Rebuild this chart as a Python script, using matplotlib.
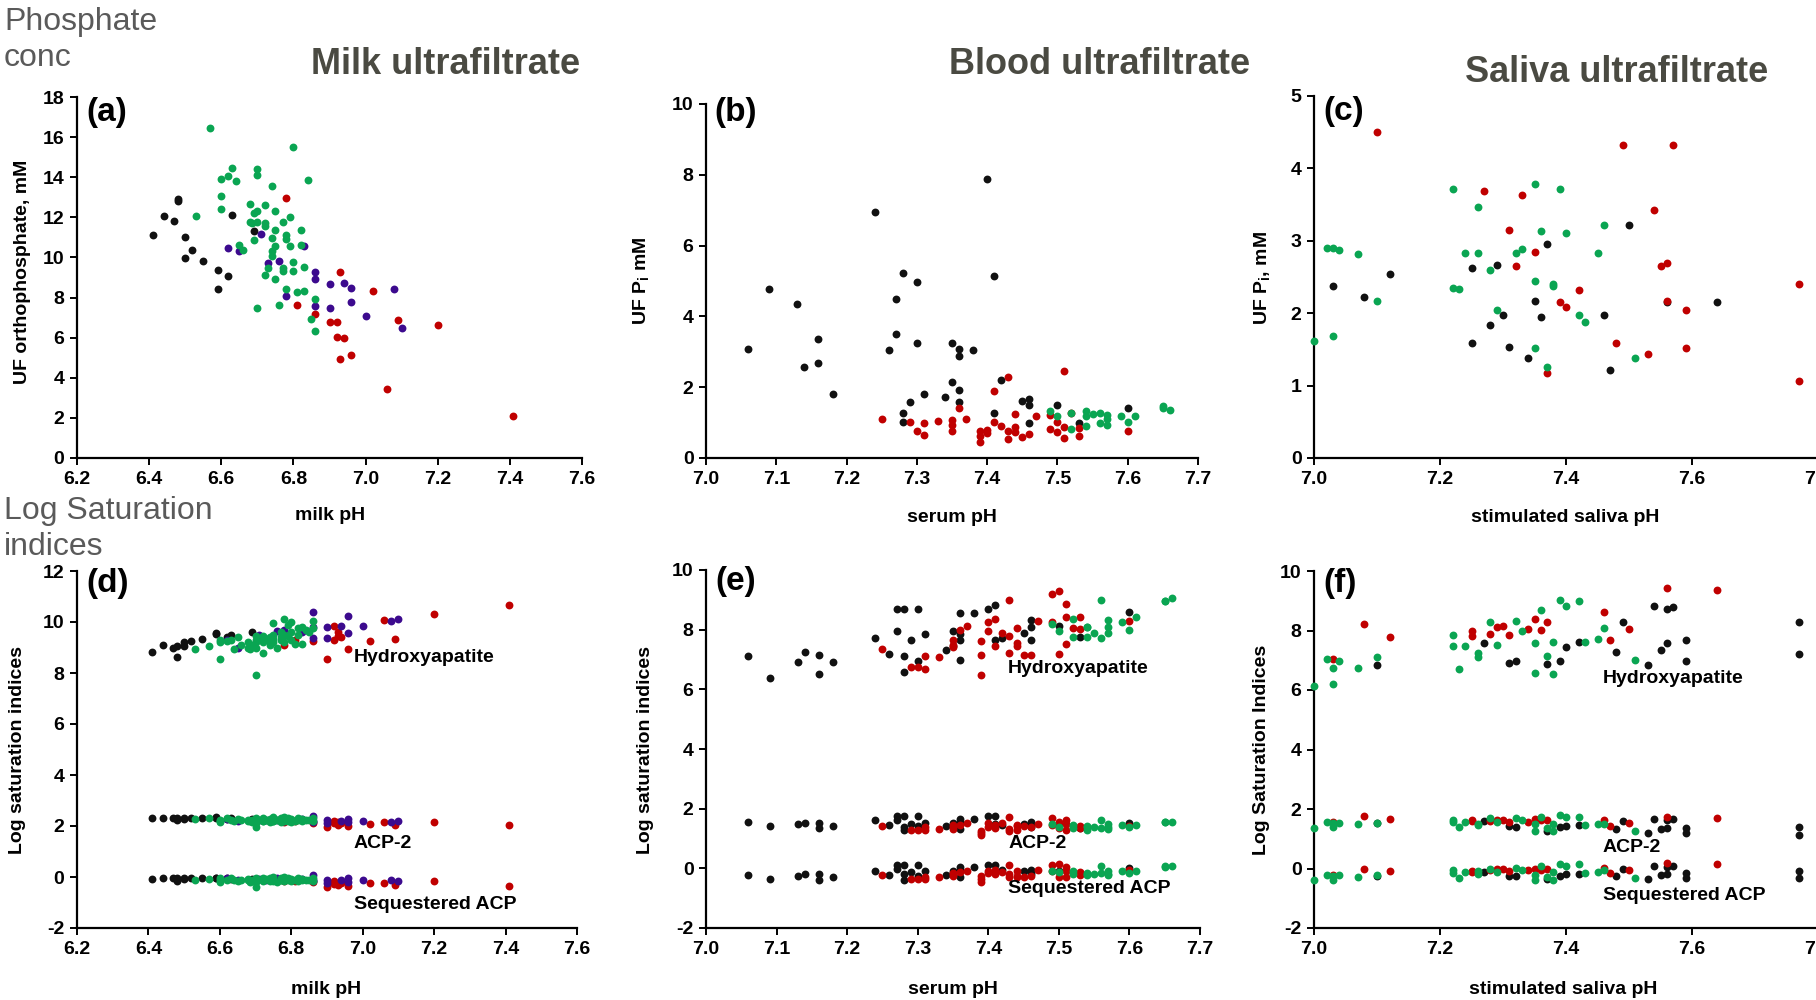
import matplotlib
matplotlib.use("Agg")
import matplotlib.pyplot as plt

W, H = 1816, 1000

# ---- panel (a): milk ultrafiltrate, UF orthophosphate (mM) vs milk pH
ph_a_black = [6.41, 6.44, 6.47, 6.48, 6.48, 6.50, 6.50, 6.52, 6.55, 6.59, 6.59, 6.62, 6.63, 6.69]
pi_a_black = [11.1, 12.05, 11.8, 12.9, 12.8, 11.0, 9.95, 10.35, 9.8, 9.35, 8.45, 9.05, 12.1, 11.3]
ph_a_green = [6.57, 6.53, 6.60, 6.60, 6.60, 6.62, 6.63, 6.64, 6.65, 6.66, 6.68, 6.68, 6.685, 6.69,
              6.69, 6.70, 6.70, 6.70, 6.70, 6.70, 6.72, 6.72, 6.72, 6.72, 6.73, 6.74, 6.74, 6.74,
              6.74, 6.75, 6.75, 6.75, 6.75, 6.76, 6.77, 6.77, 6.77, 6.78, 6.78, 6.78, 6.79, 6.79,
              6.80, 6.80, 6.80, 6.81, 6.82, 6.82, 6.83, 6.83, 6.84, 6.85, 6.86, 6.86]
pi_a_green = [16.45, 12.05, 13.9, 13.05, 12.4, 14.05, 14.45, 13.8, 10.6, 10.35, 12.65, 11.75, 11.7, 12.2,
              10.85, 14.4, 14.1, 12.3, 11.75, 7.5, 12.6, 11.7, 11.55, 9.1, 9.45, 13.55, 10.95, 10.3,
              10.05, 12.3, 11.35, 10.55, 8.95, 7.65, 11.75, 9.45, 9.3, 11.1, 10.9, 8.45, 12.0, 10.55,
              15.5, 9.75, 9.3, 8.3, 11.35, 10.6, 9.5, 8.35, 13.85, 6.95, 7.95, 6.35]
ph_a_purple = [6.62, 6.65, 6.71, 6.73, 6.76, 6.78, 6.83, 6.86, 6.86, 6.86, 6.90, 6.90, 6.94, 6.96,
               6.96, 7.00, 7.08, 7.10]
pi_a_purple = [10.45, 10.3, 11.15, 9.7, 9.8, 8.1, 10.55, 9.25, 8.95, 7.6, 8.7, 7.5, 8.75, 8.5,
               7.8, 7.1, 8.45, 6.5]
ph_a_red = [6.78, 6.81, 6.86, 6.90, 6.92, 6.92, 6.93, 6.93, 6.94, 6.96, 7.02, 7.06, 7.09, 7.20, 7.41]
pi_a_red = [12.95, 7.65, 7.2, 6.8, 6.8, 6.05, 9.25, 4.95, 6.0, 5.15, 8.35, 3.45, 6.9, 6.65, 2.1]

# ---- panel (d): milk, log saturation indices (same samples as (a))
hap_d_black = [8.84, 9.10, 9.00, 8.62, 9.06, 9.23, 9.06, 9.26, 9.33, 9.58, 9.52, 9.42, 9.49, 9.60]
acp_d_black = [2.30, 2.33, 2.30, 2.22, 2.30, 2.30, 2.28, 2.30, 2.31, 2.33, 2.35, 2.28, 2.30, 2.28]
seq_d_black = [-0.07, -0.03, -0.05, -0.15, -0.05, -0.05, -0.07, -0.05, -0.03, -0.02, -0.05, -0.05, -0.07, -0.08]
hap_d_green = [9.06, 8.94, 9.30, 8.55, 9.20, 9.27, 9.30, 8.93, 9.40, 9.10, 9.20, 9.00, 8.95, 9.10,
               9.05, 9.45, 9.00, 9.30, 9.20, 7.92, 8.80, 9.30, 9.20, 9.45, 9.35, 9.20, 9.40, 9.30,
               9.10, 9.97, 9.50, 9.20, 9.35, 9.00, 9.40, 9.60, 9.30, 10.10, 9.50, 9.20, 9.90, 9.45,
               10.00, 9.60, 9.30, 9.14, 9.75, 9.50, 9.14, 9.80, 9.70, 9.60, 10.05, 9.75]
acp_d_green = [2.30, 2.28, 2.25, 2.15, 2.20, 2.30, 2.25, 2.20, 2.28, 2.22, 2.20, 2.25, 2.18, 2.22,
               2.15, 2.30, 2.20, 2.25, 2.10, 1.96, 2.20, 2.25, 2.18, 2.30, 2.22, 2.20, 2.28, 2.15,
               2.25, 2.35, 2.20, 2.28, 2.18, 2.25, 2.30, 2.20, 2.15, 2.35, 2.25, 2.20, 2.30, 2.18,
               2.28, 2.22, 2.15, 2.20, 2.30, 2.25, 2.18, 2.28, 2.22, 2.25, 2.30, 2.20]
seq_d_green = [-0.08, -0.10, -0.05, -0.20, -0.12, -0.10, -0.05, -0.12, -0.15, -0.10, -0.08, -0.12, -0.18, -0.10,
               -0.15, -0.05, -0.12, -0.08, -0.20, -0.40, -0.15, -0.10, -0.05, -0.12, -0.08, -0.15, -0.10, -0.05,
               -0.12, 0.00, -0.10, -0.15, -0.08, -0.20, -0.05, -0.12, -0.10, 0.00, -0.08, -0.15, -0.05, -0.12,
               -0.08, -0.15, -0.10, -0.12, -0.05, -0.15, -0.08, -0.10, -0.12, -0.10, -0.05, -0.15]
hap_d_purple = [9.30, 9.00, 9.50, 9.35, 9.65, 9.70, 9.60, 10.38, 9.36, 9.80, 9.82, 9.36, 9.85, 10.25,
                9.58, 9.86, 10.02, 10.10]
acp_d_purple = [2.28, 2.20, 2.25, 2.22, 2.25, 2.20, 2.28, 2.38, 2.15, 2.20, 2.25, 2.10, 2.20, 2.28,
                2.15, 2.18, 2.15, 2.18]
seq_d_purple = [-0.05, -0.12, -0.08, -0.10, -0.05, -0.10, -0.08, 0.06, -0.15, -0.10, -0.13, -0.22, -0.12, -0.05,
                -0.18, -0.13, -0.10, -0.17]
hap_d_red = [9.10, 9.30, 9.25, 8.55, 9.85, 9.30, 9.45, 9.60, 9.42, 8.93, 9.27, 10.08, 9.33, 10.31, 10.68]
acp_d_red = [2.15, 2.20, 2.10, 1.96, 2.12, 2.20, 2.15, 2.05, 2.10, 2.00, 2.07, 2.15, 2.02, 2.17, 2.05]
seq_d_red = [-0.15, -0.15, -0.20, -0.39, -0.17, -0.28, -0.25, -0.30, -0.22, -0.35, -0.23, -0.23, -0.33, -0.17, -0.37]

# ---- panel (b): blood ultrafiltrate, UF Pi vs serum pH
ph_b_black = [7.06, 7.09, 7.13, 7.14, 7.16, 7.16, 7.18, 7.24, 7.26, 7.27, 7.27, 7.28, 7.28, 7.28,
              7.29, 7.30, 7.30, 7.31, 7.34, 7.35, 7.35, 7.36, 7.36, 7.36, 7.36, 7.38, 7.40, 7.41,
              7.41, 7.42, 7.45, 7.46, 7.46, 7.46, 7.50, 7.53, 7.60]
pi_b_black = [3.09, 4.78, 4.36, 2.57, 3.37, 2.67, 1.81, 6.96, 3.04, 4.5, 3.49, 5.23, 1.27, 1.03,
              1.57, 4.96, 3.24, 1.82, 1.71, 3.24, 2.16, 3.07, 2.89, 1.93, 1.59, 3.05, 7.89, 5.15,
              1.27, 2.19, 1.6, 1.67, 1.5, 0.99, 1.51, 0.99, 1.41]
ph_b_red = [7.25, 7.29, 7.30, 7.31, 7.31, 7.33, 7.35, 7.35, 7.35, 7.36, 7.37, 7.39, 7.39, 7.39,
            7.40, 7.40, 7.41, 7.41, 7.42, 7.43, 7.43, 7.43, 7.44, 7.44, 7.44, 7.45, 7.46, 7.47,
            7.49, 7.49, 7.50, 7.50, 7.51, 7.51, 7.51, 7.52, 7.53, 7.53, 7.60]
pi_b_red = [1.11, 1.01, 0.75, 0.99, 0.66, 1.04, 1.06, 0.94, 0.75, 1.41, 1.09, 0.75, 0.61, 0.44,
            0.8, 0.7, 1.88, 1.01, 0.91, 2.29, 0.75, 0.55, 1.25, 0.87, 0.73, 0.59, 0.68, 1.2,
            1.22, 0.82, 1.01, 0.73, 2.46, 0.87, 0.56, 1.28, 0.85, 0.63, 0.77]
ph_b_green = [7.49, 7.50, 7.52, 7.52, 7.54, 7.54, 7.54, 7.55, 7.56, 7.56, 7.57, 7.57, 7.57, 7.59,
              7.60, 7.61, 7.65, 7.65, 7.66]
pi_b_green = [1.33, 1.2, 1.27, 0.83, 1.34, 1.19, 0.89, 1.25, 1.27, 0.99, 1.21, 1.1, 0.94, 1.18,
              1.03, 1.19, 1.48, 1.41, 1.36]

# ---- panel (e): blood, log saturation indices (same samples as (b))
hap_e_black = [7.12, 6.39, 6.90, 7.24, 7.15, 6.50, 6.90, 7.73, 7.20, 8.69, 7.97, 8.69, 7.12, 6.57,
               7.66, 8.69, 6.96, 7.85, 7.32, 7.94, 7.45, 8.55, 7.66, 6.99, 7.85, 8.57, 8.69, 8.83,
               7.66, 7.73, 7.90, 8.33, 8.08, 7.66, 8.12, 7.77, 8.60]
acp_e_black = [1.54, 1.41, 1.48, 1.52, 1.52, 1.35, 1.41, 1.63, 1.44, 1.74, 1.63, 1.76, 1.38, 1.27,
               1.50, 1.76, 1.41, 1.52, 1.41, 1.52, 1.45, 1.65, 1.50, 1.32, 1.55, 1.66, 1.74, 1.74,
               1.50, 1.45, 1.48, 1.54, 1.50, 1.40, 1.45, 1.35, 1.52]
seq_e_black = [-0.21, -0.36, -0.27, -0.19, -0.19, -0.38, -0.29, -0.08, -0.21, 0.12, -0.02, 0.10, -0.20, -0.38,
               -0.13, 0.10, -0.25, -0.10, -0.21, -0.08, -0.15, 0.03, -0.10, -0.29, -0.05, 0.03, 0.12, 0.12,
               -0.10, -0.05, -0.10, -0.04, -0.12, -0.20, -0.08, -0.15, 0.01]
hap_e_red = [7.34, 6.74, 6.74, 7.12, 6.67, 7.10, 7.66, 7.41, 7.50, 7.99, 8.12, 7.63, 7.15, 6.47,
             8.27, 7.96, 8.37, 7.46, 7.88, 9.00, 7.79, 7.21, 8.05, 7.54, 7.45, 7.15, 7.15, 8.30,
             9.18, 8.27, 9.31, 7.19, 8.86, 8.43, 7.52, 8.05, 8.43, 8.01, 8.29]
acp_e_red = [1.43, 1.29, 1.29, 1.27, 1.38, 1.33, 1.38, 1.32, 1.45, 1.46, 1.52, 1.24, 1.13, 1.20,
             1.52, 1.40, 1.46, 1.35, 1.52, 1.71, 1.32, 1.25, 1.41, 1.30, 1.45, 1.41, 1.38, 1.50,
             1.68, 1.45, 1.55, 1.35, 1.63, 1.50, 1.29, 1.43, 1.43, 1.35, 1.43]
seq_e_red = [-0.21, -0.36, -0.36, -0.36, -0.30, -0.29, -0.20, -0.25, -0.15, -0.12, -0.08, -0.27, -0.47, -0.35,
             -0.08, -0.15, -0.04, -0.20, -0.12, 0.10, -0.20, -0.28, -0.10, -0.25, -0.30, -0.30, -0.25, -0.05,
             0.12, -0.10, 0.16, -0.30, 0.05, -0.10, -0.29, -0.16, -0.12, -0.22, -0.05]
hap_e_green = [8.19, 7.97, 8.36, 7.75, 8.08, 7.77, 8.10, 7.90, 9.00, 7.71, 8.32, 8.10, 7.90, 8.27,
               7.99, 8.41, 8.97, 8.95, 9.07]
acp_e_green = [1.48, 1.40, 1.45, 1.35, 1.41, 1.38, 1.30, 1.40, 1.63, 1.35, 1.48, 1.38, 1.32, 1.45,
               1.38, 1.44, 1.55, 1.55, 1.55]
seq_e_green = [-0.08, -0.12, -0.10, -0.20, -0.15, -0.20, -0.22, -0.18, 0.08, -0.15, -0.10, -0.18, -0.22, -0.10,
               -0.15, -0.10, 0.06, 0.07, 0.07]

# ---- panel (c): saliva ultrafiltrate, UF Pi vs stimulated saliva pH
ph_c_black = [7.03, 7.08, 7.12, 7.25, 7.25, 7.28, 7.29, 7.30, 7.31, 7.34, 7.35, 7.36, 7.37, 7.46,
              7.47, 7.50, 7.56, 7.64]
pi_c_black = [2.37, 2.23, 2.54, 2.63, 1.59, 1.84, 2.67, 1.98, 1.54, 1.38, 2.17, 1.95, 2.96, 1.97,
              1.22, 3.22, 2.15, 2.15]
ph_c_red = [7.10, 7.27, 7.31, 7.32, 7.33, 7.35, 7.37, 7.39, 7.40, 7.42, 7.48, 7.49, 7.53, 7.54,
            7.55, 7.56, 7.56, 7.57, 7.59, 7.59, 7.77, 7.77]
pi_c_red = [4.5, 3.69, 3.15, 2.65, 3.63, 2.85, 1.17, 2.16, 2.09, 2.32, 1.59, 4.33, 1.44, 3.43,
            2.65, 2.70, 2.17, 4.33, 2.04, 1.52, 2.4, 1.06]
ph_c_green = [7.00, 7.02, 7.03, 7.04, 7.03, 7.07, 7.10, 7.22, 7.22, 7.23, 7.24, 7.26, 7.26, 7.28,
              7.29, 7.32, 7.33, 7.35, 7.35, 7.35, 7.36, 7.37, 7.38, 7.38, 7.39, 7.40, 7.42, 7.43,
              7.45, 7.46, 7.51]
pi_c_green = [1.62, 2.9, 2.9, 2.87, 1.68, 2.82, 2.17, 3.71, 2.35, 2.33, 2.83, 3.47, 2.83, 2.6,
              2.05, 2.83, 2.89, 3.79, 2.44, 1.52, 3.14, 1.26, 2.41, 2.38, 3.72, 3.11, 1.98, 1.88,
              2.83, 3.22, 1.38]

# ---- panel (f): saliva, log saturation indices
ph_f_black = [7.10, 7.27, 7.31, 7.32, 7.37, 7.39, 7.40, 7.42, 7.48, 7.49, 7.53, 7.54, 7.55, 7.56,
              7.56, 7.57, 7.59, 7.59, 7.77, 7.77]
hap_f_black = [6.84, 7.59, 6.92, 6.99, 6.86, 6.99, 7.44, 7.63, 7.29, 8.28, 6.83, 8.84, 7.33, 7.58,
               8.71, 8.79, 7.67, 6.99, 8.28, 7.22]
acp_f_black = [1.52, 1.59, 1.42, 1.40, 1.26, 1.40, 1.43, 1.45, 1.32, 1.60, 1.21, 1.65, 1.33, 1.37,
               1.64, 1.65, 1.37, 1.21, 1.40, 1.12]
seq_f_black = [-0.25, -0.12, -0.26, -0.26, -0.34, -0.26, -0.17, -0.17, -0.25, -0.03, -0.34, 0.08, -0.21, -0.17,
               0.06, 0.08, -0.15, -0.31, -0.08, -0.31]
ph_f_red = [7.03, 7.08, 7.12, 7.25, 7.25, 7.28, 7.29, 7.30, 7.31, 7.34, 7.35, 7.36, 7.37, 7.46,
            7.47, 7.50, 7.56, 7.64]
hap_f_red = [7.03, 8.22, 7.77, 7.99, 7.80, 7.88, 8.13, 8.16, 7.85, 8.05, 8.38, 8.03, 8.30, 8.61,
             7.69, 8.05, 9.43, 9.35]
acp_f_red = [1.56, 1.76, 1.67, 1.60, 1.62, 1.59, 1.64, 1.64, 1.56, 1.56, 1.67, 1.62, 1.64, 1.62,
             1.43, 1.54, 1.73, 1.70]
seq_f_red = [-0.21, 0.00, -0.08, -0.08, -0.12, -0.06, -0.03, -0.03, -0.08, -0.06, 0.00, -0.06, -0.03, 0.03,
             -0.14, -0.06, 0.19, 0.16]
ph_f_green = [7.00, 7.02, 7.03, 7.03, 7.04, 7.07, 7.10, 7.22, 7.22, 7.23, 7.24, 7.26, 7.26, 7.28,
              7.29, 7.32, 7.33, 7.35, 7.35, 7.36, 7.37, 7.38, 7.38, 7.39, 7.40, 7.42, 7.43, 7.45,
              7.46, 7.51]
hap_f_green = [6.12, 7.03, 6.73, 6.21, 6.96, 6.75, 7.10, 7.85, 7.49, 6.71, 7.47, 7.25, 7.10, 8.28,
               7.52, 8.33, 7.98, 7.58, 6.58, 8.68, 7.13, 7.61, 6.54, 9.01, 8.84, 8.98, 7.61, 7.73,
               8.10, 7.02]
acp_f_green = [1.37, 1.56, 1.39, 1.54, 1.54, 1.48, 1.53, 1.62, 1.55, 1.39, 1.55, 1.50, 1.45, 1.71,
               1.55, 1.70, 1.64, 1.50, 1.26, 1.73, 1.37, 1.50, 1.26, 1.79, 1.73, 1.73, 1.45, 1.48,
               1.50, 1.25]
seq_f_green = [-0.40, -0.21, -0.40, -0.25, -0.23, -0.28, -0.21, -0.06, -0.15, -0.32, -0.12, -0.20, -0.10, 0.00,
               -0.12, 0.02, -0.06, -0.22, -0.40, 0.08, -0.28, -0.12, -0.40, 0.16, 0.10, 0.14, -0.15, -0.12,
               -0.06, -0.32]

BLACK = "#111111"
RED = "#c00000"
GREEN = "#0aa552"
PURPLE = "#3c0a8e"
NARROW = ["Liberation Sans Narrow", "Liberation Sans", "DejaVu Sans"]

plt.rcParams["font.family"] = ["Liberation Sans", "DejaVu Sans"]
plt.rcParams["font.weight"] = "bold"
plt.rcParams["axes.labelweight"] = "bold"
plt.rcParams["axes.unicode_minus"] = False
plt.rcParams["mathtext.default"] = "regular"


def box(l, t, r, b):
    return [l / W, 1 - b / H, (r - l) / W, (b - t) / H]


def fpos(x, y):
    return x / W, 1 - y / H


fig = plt.figure(figsize=(W / 100, H / 100), dpi=100)


def style(ax, xlim, xticks, ylim, yticks):
    ax.set_xlim(xlim)
    ax.set_ylim(ylim)
    ax.set_xticks(xticks)
    ax.set_xticklabels(["%.1f" % v for v in xticks])
    ax.set_yticks(yticks)
    ax.set_yticklabels(["%d" % v for v in yticks])
    for s in ["top", "right"]:
        ax.spines[s].set_visible(False)
    for s in ["left", "bottom"]:
        ax.spines[s].set_linewidth(1.6)
    ax.tick_params(direction="out", length=5, width=1.4, labelsize=14, pad=4)
    ax.patch.set_alpha(0)


def dots(ax, x, y, c):
    ax.scatter(x, y, s=32, color=c, linewidths=0, zorder=3, clip_on=False)


def labels(ax, xl, xpos, yl, ypos):
    ax.set_xlabel(xl, fontsize=14, va="center", ha="center")
    ax.xaxis.set_label_coords(*fpos(*xpos), transform=fig.transFigure)
    ax.set_ylabel(yl, fontsize=14, va="center", ha="center")
    ax.yaxis.set_label_coords(*fpos(*ypos), transform=fig.transFigure)


def tag(ax, s, y=0.96):
    ax.text(0.018, y, s, transform=ax.transAxes, ha="left", va="center",
            fontsize=24, fontweight="bold", family=NARROW)


milk_x = [6.2, 6.4, 6.6, 6.8, 7.0, 7.2, 7.4, 7.6]
blood_x = [7.0, 7.1, 7.2, 7.3, 7.4, 7.5, 7.6, 7.7]
saliva_x = [7.0, 7.2, 7.4, 7.6, 7.8]

# (a)
ax = fig.add_axes(box(77, 97, 582, 458))
style(ax, (6.2, 7.6), milk_x, (0, 18), range(0, 19, 2))
dots(ax, ph_a_black, pi_a_black, BLACK)
dots(ax, ph_a_red, pi_a_red, RED)
dots(ax, ph_a_purple, pi_a_purple, PURPLE)
dots(ax, ph_a_green, pi_a_green, GREEN)
labels(ax, "milk pH", (330, 516), "UF orthophosphate, mM", (23, 272))
tag(ax, "(a)", 0.958)

# (b)
ax = fig.add_axes(box(706, 104, 1198, 458))
style(ax, (7.0, 7.7), blood_x, (0, 10), range(0, 11, 2))
dots(ax, ph_b_black, pi_b_black, BLACK)
dots(ax, ph_b_red, pi_b_red, RED)
dots(ax, ph_b_green, pi_b_green, GREEN)
labels(ax, "serum pH", (952, 517), "UF P$_\\mathregular{i}$ mM", (641, 281))
tag(ax, "(b)", 0.975)

# (c)
ax = fig.add_axes(box(1314, 96, 1818, 458))
style(ax, (7.0, 7.8), saliva_x, (0, 5), range(0, 6))
dots(ax, ph_c_black, pi_c_black, BLACK)
dots(ax, ph_c_red, pi_c_red, RED)
dots(ax, ph_c_green, pi_c_green, GREEN)
labels(ax, "stimulated saliva pH", (1565, 517), "UF P$_\\mathregular{i}$, mM", (1262, 278))
tag(ax, "(c)", 0.956)

# (d)
ax = fig.add_axes(box(77, 571, 577, 928))
style(ax, (6.2, 7.6), milk_x, (-2, 12), range(-2, 13, 2))
for yb, yg, yp, yr in [(hap_d_black, hap_d_green, hap_d_purple, hap_d_red),
                       (acp_d_black, acp_d_green, acp_d_purple, acp_d_red),
                       (seq_d_black, seq_d_green, seq_d_purple, seq_d_red)]:
    dots(ax, ph_a_black, yb, BLACK)
    dots(ax, ph_a_red, yr, RED)
    dots(ax, ph_a_purple, yp, PURPLE)
    dots(ax, ph_a_green, yg, GREEN)
ax.text(6.975, 8.6, "Hydroxyapatite", fontsize=14, va="center")
ax.text(6.975, 1.3, "ACP-2", fontsize=14, va="center")
ax.text(6.975, -1.06, "Sequestered ACP", fontsize=14, va="center")
labels(ax, "milk pH", (326, 990), "Log saturation indices", (18, 750))
tag(ax, "(d)", 0.966)

# (e)
ax = fig.add_axes(box(706, 570, 1200, 928))
style(ax, (7.0, 7.7), blood_x, (-2, 10), range(-2, 11, 2))
for yb, yr, yg in [(hap_e_black, hap_e_red, hap_e_green),
                   (acp_e_black, acp_e_red, acp_e_green),
                   (seq_e_black, seq_e_red, seq_e_green)]:
    dots(ax, ph_b_black, yb, BLACK)
    dots(ax, ph_b_red, yr, RED)
    dots(ax, ph_b_green, yg, GREEN)
ax.text(7.428, 6.7, "Hydroxyapatite", fontsize=14, va="center")
ax.text(7.428, 0.83, "ACP-2", fontsize=14, va="center")
ax.text(7.428, -0.69, "Sequestered ACP", fontsize=14, va="center")
labels(ax, "serum pH", (953, 990), "Log saturation indices", (645, 750))
tag(ax, "(e)", 0.969)

# (f)
ax = fig.add_axes(box(1314, 571, 1818, 928))
style(ax, (7.0, 7.8), saliva_x, (-2, 10), range(-2, 11, 2))
for yb, yr, yg in [(hap_f_black, hap_f_red, hap_f_green),
                   (acp_f_black, acp_f_red, acp_f_green),
                   (seq_f_black, seq_f_red, seq_f_green)]:
    dots(ax, ph_f_black, yb, BLACK)
    dots(ax, ph_f_red, yr, RED)
    dots(ax, ph_f_green, yg, GREEN)
ax.text(7.458, 6.4, "Hydroxyapatite", fontsize=14, va="center")
ax.text(7.458, 0.72, "ACP-2", fontsize=14, va="center")
ax.text(7.458, -0.9, "Sequestered ACP", fontsize=14, va="center")
labels(ax, "stimulated saliva pH", (1563, 990), "Log Saturation Indices", (1261, 750))
tag(ax, "(f)", 0.966)

# titles and row captions
title_kw = dict(ha="center", va="center", fontsize=26, fontweight="bold", color="#4a4a42", family=NARROW)
fig.text(*fpos(446, 64), "Milk ultrafiltrate", **title_kw)
fig.text(*fpos(1100, 64), "Blood ultrafiltrate", **title_kw)
fig.text(*fpos(1617, 72), "Saliva ultrafiltrate", **title_kw)

cap_kw = dict(ha="left", va="center", fontsize=23, fontweight="normal", color="#5a5a5a", family=NARROW)
fig.text(*fpos(4, 22), "Phosphate", **cap_kw)
fig.text(*fpos(4, 58), "conc", **cap_kw)
fig.text(*fpos(4, 511), "Log Saturation", **cap_kw)
fig.text(*fpos(4, 547), "indices", **cap_kw)

fig.savefig("out.png", dpi=100)
